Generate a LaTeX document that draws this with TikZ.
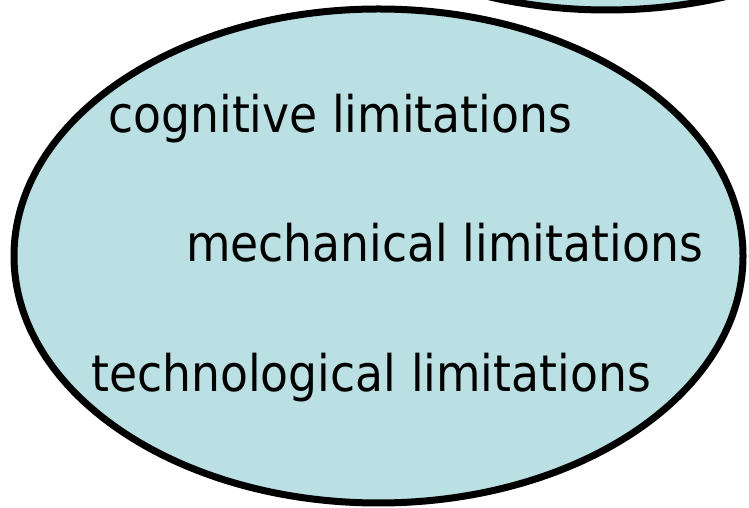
\documentclass[tikz,border=0pt]{standalone}
\usepackage{fontspec}
\setmainfont{DejaVu Sans}[FakeStretch=0.905]
\definecolor{bubble}{RGB}{186,224,227}
\begin{document}
\begin{tikzpicture}[x=1pt,y=1pt,
  bubblestyle/.style={draw=black,fill=bubble,line width=7pt},
  label/.style={anchor=base west,inner sep=0pt,font=\fontsize{50.5}{60}\selectfont}]
\useasboundingbox (0,0) rectangle (749,508);
\begin{scope}
\clip (0,0) rectangle (749,508);
\path[bubblestyle] (607,745) ellipse [x radius=364.5, y radius=247];
\path[bubblestyle] (378.5,252) ellipse [x radius=364.5, y radius=247];
\end{scope}
\node[label] (cog) at (108,375) {cognitive limitations};
\node[label] (mech) at (186,246) {mechanical limitations};
\node[label] (tech) at (91,116) {technological limitations};
\end{tikzpicture}
\end{document}
